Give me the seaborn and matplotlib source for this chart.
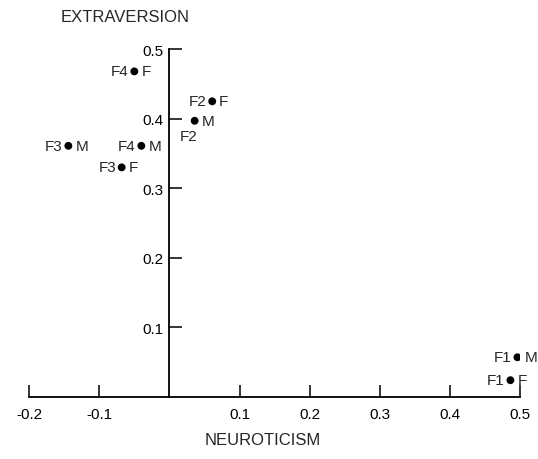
import pandas as pd
import matplotlib.pyplot as plt
import seaborn as sns

# factor scores
factor = ['F1', 'F1', 'F2', 'F2', 'F3', 'F3', 'F4', 'F4']
sex = ['M', 'F', 'M', 'F', 'M', 'F', 'M', 'F']
neuroticism = [0.496, 0.486, 0.036, 0.061, -0.144, -0.068, -0.040, -0.050]
extraversion = [0.057, 0.024, 0.397, 0.425, 0.361, 0.330, 0.361, 0.468]

xticks = [-0.2, -0.1, 0.1, 0.2, 0.3, 0.4, 0.5]
yticks = [0.1, 0.2, 0.3, 0.4, 0.5]

df = pd.DataFrame({'factor': factor, 'sex': sex,
                   'neuroticism': neuroticism, 'extraversion': extraversion})

sns.set_style('ticks')
plt.rcParams['font.family'] = ['Liberation Sans', 'DejaVu Sans']

fig = plt.figure(figsize=(5.38, 4.6), dpi=100)
ax = fig.add_axes([0.054, 0.135, 0.913, 0.756])

sns.scatterplot(data=df, x='neuroticism', y='extraversion', color='black',
                s=32, edgecolor='none', ax=ax, legend=False)

for _, r in df.iterrows():
    xy = (r['neuroticism'], r['extraversion'])
    ax.annotate(r['sex'], xy, xytext=(5, 0), textcoords='offset points',
                ha='left', va='center', fontsize=11)
    if r['factor'] == 'F2' and r['sex'] == 'M':
        # factor label sits under the dot here
        ax.annotate(r['factor'], xy, xytext=(-4, -6), textcoords='offset points',
                    ha='center', va='top', fontsize=11)
    else:
        ax.annotate(r['factor'], xy, xytext=(-4, 0), textcoords='offset points',
                    ha='right', va='center', fontsize=11)

ax.set_xlim(-0.2, 0.5)
ax.set_ylim(0, 0.5)
ax.spines['left'].set_position(('data', 0))
ax.spines['bottom'].set_position(('data', 0))
ax.spines['top'].set_visible(False)
ax.spines['right'].set_visible(False)
for s in ['left', 'bottom']:
    ax.spines[s].set_linewidth(1.3)
    ax.spines[s].set_color('black')

ax.set_xticks(xticks)
ax.set_xticklabels(['%.1f' % v for v in xticks])
ax.set_yticks(yticks)
ax.set_yticklabels(['%.1f' % v for v in yticks])
ax.tick_params(axis='both', direction='in', length=9, width=1.1, labelsize=11, colors='black')
ax.tick_params(axis='x', pad=7)
ax.tick_params(axis='y', pad=4)

ax.set_xlabel('')
ax.set_ylabel('')
fig.text(0.232, 0.962, 'EXTRAVERSION', ha='center', va='center', fontsize=12)
fig.text(0.488, 0.043, 'NEUROTICISM', ha='center', va='center', fontsize=12)

fig.savefig('out.png', dpi=100, facecolor='white')
